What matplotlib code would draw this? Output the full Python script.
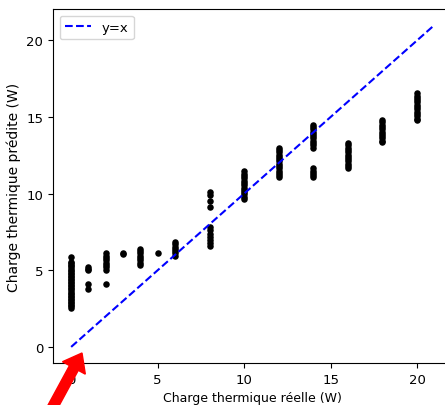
import matplotlib
matplotlib.use("Agg")
import matplotlib.pyplot as plt
from matplotlib.patches import FancyArrow

# Predicted vs. true thermal load
pred_0 = [5.85, 5.55, 5.45, 5.35, 5.25, 5.15, 5.05, 4.95, 4.85, 4.75, 4.65, 4.55, 4.45, 4.35, 4.25,
          4.15, 4.05, 3.95, 3.85, 3.75, 3.65, 3.55, 3.45, 3.35, 3.25, 3.15, 3.05, 2.95, 2.85, 2.75,
          2.65, 2.55]
pred_1 = [5.2, 5.1, 5.0, 4.1, 3.8]
pred_2 = [6.1, 5.95, 5.8, 5.65, 5.5, 5.35, 5.2, 5.05, 4.1]
pred_3 = [6.15, 6.05]
pred_4 = [6.4, 6.25, 6.1, 5.95, 5.8, 5.65, 5.5, 5.35]
pred_5 = [6.1]
pred_6 = [6.85, 6.7, 6.55, 6.4, 6.25, 6.1, 5.95]
pred_8 = [10.1, 9.9, 9.5, 9.1, 7.8, 7.6, 7.4, 7.2, 7.0, 6.8, 6.6]
pred_10 = [11.45, 11.3, 11.15, 11.0, 10.85, 10.7, 10.55, 10.4, 10.25, 10.1, 9.95, 9.8, 9.65]
pred_12 = [13.0, 12.85, 12.7, 12.55, 12.4, 12.25, 12.1, 11.95, 11.8, 11.65, 11.5, 11.35, 11.2, 11.1]
pred_14 = [14.5, 14.35, 14.2, 14.05, 13.9, 13.75, 13.6, 13.45, 13.3, 13.15, 13.0, 11.65, 11.5, 11.35, 11.2, 11.1]
pred_16 = [13.3, 13.15, 13.0, 12.85, 12.7, 12.55, 12.4, 12.25, 12.1, 11.95, 11.8, 11.7]
pred_18 = [14.8, 14.65, 14.5, 14.35, 14.2, 14.05, 13.9, 13.75, 13.6, 13.45, 13.35]
pred_20 = [16.55, 16.4, 16.25, 16.1, 15.95, 15.8, 15.65, 15.5, 15.35, 15.2, 15.05, 14.9, 14.8]

true_values = [0, 1, 2, 3, 4, 5, 6, 8, 10, 12, 14, 16, 18, 20]
predicted = [pred_0, pred_1, pred_2, pred_3, pred_4, pred_5, pred_6, pred_8,
             pred_10, pred_12, pred_14, pred_16, pred_18, pred_20]
line_range = [0, 21]

xs, ys = [], []
for t, p in zip(true_values, predicted):
    xs.extend([t] * len(p))
    ys.extend(p)

fig = plt.figure(figsize=(4.45, 4.06), dpi=100)
ax = fig.add_axes([53 / 445, 1 - 364 / 406, (452.5 - 53) / 445, (364 - 10) / 406])
ax.scatter(xs, ys, s=22, color="black", linewidths=0, zorder=2)
ax.plot(line_range, line_range, "b--", label="y=x", zorder=3)
ax.set_xlim(-1.05, 22.05)
ax.set_ylim(-1.05, 22.05)
ax.set_xticks([0, 5, 10, 15, 20])
ax.set_yticks([0, 5, 10, 15, 20])
ax.set_xlabel("Charge thermique réelle (W)", fontsize=9)
ax.set_ylabel("Charge thermique prédite (W)", fontsize=10)
ax.tick_params(labelsize=9.5)
ax.legend(loc="upper left", fontsize=9.5)

# Red arrow annotation pointing at the origin
tip = (0.82, 0.52)
tail = (0.44, -0.18)
arrow = FancyArrow(tail[0], tail[1], tip[0] - tail[0], tip[1] - tail[1],
                   width=0.10, head_width=0.26, head_length=0.17,
                   length_includes_head=True, color="red",
                   transform=fig.dpi_scale_trans, zorder=10)
fig.patches.append(arrow)

fig.savefig("out.png", dpi=100)
